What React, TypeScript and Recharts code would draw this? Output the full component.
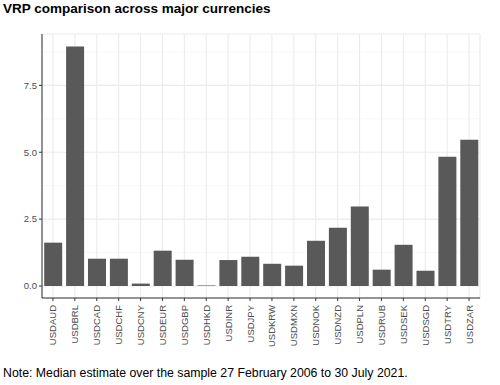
import { Bar, BarChart, CartesianGrid, XAxis, YAxis } from "recharts"

const currencies = [
  "USDAUD", "USDBRL", "USDCAD", "USDCHF", "USDCNY", "USDEUR", "USDGBP", "USDHKD", "USDINR", "USDJPY",
  "USDKRW", "USDMXN", "USDNOK", "USDNZD", "USDPLN", "USDRUB", "USDSEK", "USDSGD", "USDTRY", "USDZAR",
]
const vrp = [
  1.62, 8.95, 1.02, 1.02, 0.09, 1.32, 0.98, 0.02, 0.97, 1.09,
  0.83, 0.76, 1.69, 2.18, 2.97, 0.61, 1.54, 0.57, 4.83, 5.47,
]
const majorTicks = [0, 2.5, 5, 7.5]
const minorTicks = [1.25, 3.75, 6.25, 8.75]
const yDomain = [-0.449, 9.42]

const data = currencies.map((c, i) => ({ pair: c, vrp: vrp[i] }))

const font = "'Liberation Sans', Arial, sans-serif"

function XTick(props: any) {
  const { x, y, payload } = props
  return (
    <text
      x={0}
      y={0}
      transform={`translate(${x + 3.5},${y + 2}) rotate(-90)`}
      textAnchor="end"
      fontSize={9.5}
      fill="#4d4d4d"
      fontFamily={font}
    >
      {payload.value}
    </text>
  )
}

export default function App() {
  return (
    <div style={{ position: "absolute", left: 0, top: 0, width: 500, height: 385, background: "#fff", fontFamily: font }}>
      <div style={{ position: "absolute", left: 3, top: 1, fontSize: 13.5, fontWeight: "bold", color: "#000" }}>
        VRP comparison across major currencies
      </div>
      <BarChart
        width={500}
        height={385}
        data={data}
        margin={{ top: 34, right: 20, left: 0, bottom: 32 }}
        barCategoryGap="10%"
      >
        <CartesianGrid
          stroke="#f2f2f2"
          strokeWidth={0.6}
          vertical={false}
          horizontalValues={minorTicks}
          syncWithTicks={false}
        />
        <CartesianGrid stroke="#ebebeb" strokeWidth={1.1} />
        <XAxis
          dataKey="pair"
          interval={0}
          height={55}
          tick={<XTick />}
          tickSize={3}
          tickLine={{ stroke: "#333" }}
          axisLine={{ stroke: "#333" }}
        />
        <XAxis xAxisId="top" orientation="top" dataKey="pair" height={0} tick={false} tickLine={false} axisLine={{ stroke: "#333" }} />
        <YAxis
          type="number"
          domain={yDomain}
          allowDataOverflow
          ticks={majorTicks}
          tickFormatter={(v: number) => v.toFixed(1)}
          width={42}
          tickSize={3}
          tick={{ fontSize: 9.5, fill: "#4d4d4d", fontFamily: font }}
          tickLine={{ stroke: "#333" }}
          axisLine={{ stroke: "#333" }}
        />
        <YAxis yAxisId="right" orientation="right" width={0} domain={yDomain} allowDataOverflow tick={false} tickLine={false} axisLine={{ stroke: "#333" }} />
        <Bar dataKey="vrp" fill="#595959" isAnimationActive={false} />
      </BarChart>
      <div style={{ position: "absolute", left: 3, top: 366, fontSize: 12.3, color: "#000" }}>
        Note: Median estimate over the sample 27 February 2006 to 30 July 2021.
      </div>
    </div>
  )
}
